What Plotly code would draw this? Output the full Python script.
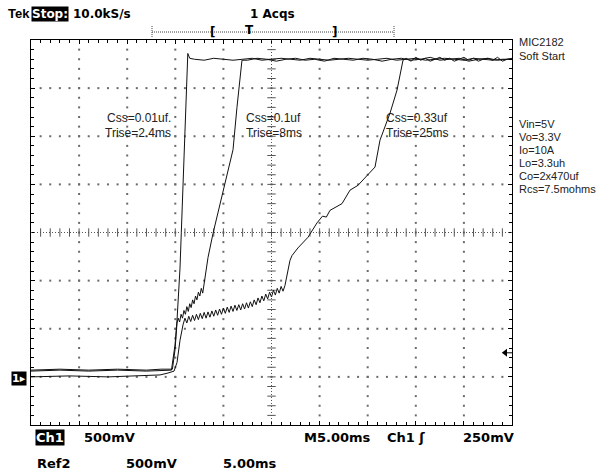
import plotly.graph_objects as go

# ---------------- data (time in ms, voltage in V) ----------------
t_css001 = [0.0, 3.0, 6.0, 9.0, 12.0, 13.5, 14.6, 14.97, 15.18, 15.49, 15.80, 16.11, 16.30, 16.50,
            17, 18, 19, 20, 21, 22, 23, 24, 25, 26, 27, 28, 29, 30, 31, 32, 33, 34, 35, 36,
            37, 38, 39, 40, 41, 42, 43, 44, 45, 46, 47, 48, 49, 50]
v_css001 = [0.06, 0.07, 0.06, 0.07, 0.06, 0.07, 0.07, 0.33, 0.59, 1.13, 1.94, 2.80, 3.36, 3.31,
            3.30, 3.29, 3.31, 3.30, 3.29, 3.30, 3.31, 3.29, 3.30, 3.31,
            3.30, 3.29, 3.31, 3.30, 3.29, 3.30, 3.31, 3.30, 3.29, 3.30,
            3.31, 3.29, 3.30, 3.31, 3.29, 3.30, 3.31, 3.30, 3.29, 3.31,
            3.30, 3.29, 3.30, 3.30]

t_css01 = [0.0, 3.0, 6.0, 9.0, 12.0, 13.5, 14.7, 14.97, 15.18,
           15.3, 15.45, 15.6, 15.75, 15.9, 16.05, 16.2, 16.35, 16.5, 16.65, 16.8, 16.95,
           17.1, 17.25, 17.4, 17.55, 17.7, 17.85,
           18.30, 18.40, 18.92, 19.65, 20.48, 21.00, 21.41, 21.93,
           22.5, 23.5, 24.5, 25.5, 26.5, 27.5, 28.5, 29.5, 30.5, 31.5, 32.5, 33.5, 34.5, 35.5,
           36.5, 37.5, 38.5, 39.5, 40.5, 41.5, 42.5, 43.5, 44.5, 45.5, 46.5, 47.5, 48.5, 49.5, 50.0]
v_css01 = [0.07, 0.08, 0.07, 0.08, 0.07, 0.08, 0.08, 0.28, 0.56,
           0.61, 0.57, 0.65, 0.61, 0.69, 0.65, 0.73, 0.68, 0.76, 0.72, 0.80, 0.76,
           0.84, 0.80, 0.88, 0.84, 0.92, 0.87,
           1.21, 1.24, 1.49, 1.80, 2.12, 2.36, 2.80, 3.29,
           3.29, 3.31, 3.30, 3.28, 3.30, 3.31, 3.29, 3.30, 3.28, 3.31,
           3.30, 3.29, 3.31, 3.30, 3.28, 3.30, 3.31, 3.29, 3.30, 3.32,
           3.29, 3.30, 3.31, 3.28, 3.30, 3.31, 3.29, 3.30, 3.30]

t_css033 = [0.0, 4.0, 8.0, 12.37, 13.41, 14.24, 14.87, 15.18, 15.49, 15.80,
            16.0, 16.2, 16.4, 16.6, 16.8, 17.0, 17.2, 17.4, 17.6, 17.8,
            18.0, 18.2, 18.4, 18.6, 18.8, 19.0, 19.2, 19.4, 19.6, 19.8,
            20.0, 20.2, 20.4, 20.6, 20.8, 21.0, 21.2, 21.4, 21.6, 21.8,
            22.0, 22.2, 22.4, 22.6, 22.8, 23.0, 23.2, 23.4, 23.6, 23.8,
            24.0, 24.2, 24.4, 24.6, 24.8, 25.0, 25.2, 25.4, 25.6, 25.8,
            26.0, 26.2, 26.4,
            26.72, 26.92, 27.13, 27.75, 28.79, 29.73, 30.3, 30.7, 31.08, 32.33, 33.16,
            33.99, 35.76, 36.28, 37.32, 38.05, 38.67,
            39.0, 39.5, 40.0, 40.5, 41.0, 41.5, 42.0, 42.5, 43.0, 43.5, 44.0, 44.5,
            45.0, 45.5, 46.0, 46.5, 47.0, 47.5, 48.0, 48.5, 49.0, 49.5, 50.0]
v_css033 = [0.0, 0.01, 0.0, 0.01, 0.02, 0.04, 0.06, 0.15, 0.38, 0.54,
            0.61, 0.56, 0.63, 0.575, 0.64, 0.585, 0.65, 0.595, 0.66, 0.605,
            0.67, 0.61, 0.675, 0.62, 0.685, 0.63, 0.695, 0.64, 0.705, 0.65,
            0.715, 0.66, 0.725, 0.67, 0.735, 0.68, 0.745, 0.69, 0.75, 0.695,
            0.76, 0.705, 0.77, 0.715, 0.78, 0.73, 0.80, 0.75, 0.82, 0.77,
            0.84, 0.79, 0.86, 0.81, 0.88, 0.83, 0.90, 0.85, 0.92, 0.87,
            0.94, 0.89, 0.95,
            1.11, 1.21, 1.26, 1.34, 1.45, 1.60, 1.67, 1.66, 1.73, 1.80, 1.94,
            1.99, 2.18, 2.46, 2.74, 2.98, 3.29,
            3.31, 3.28, 3.32, 3.29, 3.31, 3.28, 3.30, 3.32, 3.29, 3.31, 3.28, 3.30,
            3.32, 3.29, 3.31, 3.28, 3.30, 3.31, 3.29, 3.32, 3.28, 3.30, 3.31]

labels_css = ["Css=0.01uf.", "Css=0.1uf", "Css=0.33uf"]
labels_trise = ["Trise=2.4ms", "Trise=8ms", "Trise=25ms"]
side_title = ["MIC2182", "Soft Start"]
side_params = ["Vin=5V", "Vo=3.3V", "Io=10A", "Lo=3.3uh", "Co=2x470uf", "Rcs=7.5mohms"]

# ---------------- geometry helpers ----------------
L, T, W, H = 31, 40, 481, 385


def px(x):
    return (x - L) / W


def py(y):
    return (T + H - y) / H


fig = go.Figure()

# graticule dots
gx, gy = [], []
for k in range(1, 10):
    if k == 5:
        continue
    for j in range(1, 40):
        gx.append(k * 5)
        gy.append(round(-0.5 + j * 0.1, 3))
for k in range(1, 8):
    if k == 4:
        continue
    for j in range(1, 50):
        gx.append(j)
        gy.append(-0.5 + k * 0.5)
fig.add_trace(go.Scatter(x=gx, y=gy, mode="markers", hoverinfo="skip",
                         marker=dict(symbol="square", size=2, color="#6a6a6a", line=dict(width=0))))

# centre cross ticks
cy = [round(-0.5 + j * 0.1, 3) for j in range(1, 40)]
fig.add_trace(go.Scatter(x=[25] * len(cy), y=cy, mode="markers", hoverinfo="skip",
                         marker=dict(symbol="line-ew", size=6, line=dict(width=1, color="#555"))))
cx = list(range(1, 50))
fig.add_trace(go.Scatter(x=cx, y=[1.5] * len(cx), mode="markers", hoverinfo="skip",
                         marker=dict(symbol="line-ns", size=6, line=dict(width=1, color="#555"))))

# traces
for t, v in [(t_css001, v_css001), (t_css01, v_css01), (t_css033, v_css033)]:
    fig.add_trace(go.Scatter(x=t, y=v, mode="lines", line=dict(color="#111", width=1),
                             hoverinfo="skip"))

# trigger level marker
fig.add_trace(go.Scatter(x=[49.3, 50], y=[0.25, 0.25], mode="lines", line=dict(color="black", width=1),
                         hoverinfo="skip", cliponaxis=False))
fig.add_trace(go.Scatter(x=[49.3], y=[0.25], mode="markers", hoverinfo="skip", cliponaxis=False,
                         marker=dict(symbol="triangle-left", size=7, color="black")))

shapes = [
    dict(type="line", xref="x", yref="y", x0=25, x1=25, y0=-0.5, y1=3.5,
         line=dict(color="#555", width=1, dash="1px,2px")),
    dict(type="line", xref="x", yref="y", x0=0, x1=50, y0=1.5, y1=1.5,
         line=dict(color="#555", width=1, dash="1px,2px")),
    # record bar at top
    dict(type="line", xref="paper", yref="paper", x0=px(152), x1=px(394), y0=py(32), y1=py(32),
         line=dict(color="#444", width=1, dash="1px,1px")),
    dict(type="line", xref="paper", yref="paper", x0=px(152), x1=px(152), y0=py(26), y1=py(38),
         line=dict(color="#444", width=1, dash="1px,1px")),
    dict(type="line", xref="paper", yref="paper", x0=px(394), x1=px(394), y0=py(26), y1=py(38),
         line=dict(color="#444", width=1, dash="1px,1px")),
]

TEK = "DejaVu Sans"
ARI = "Liberation Sans"
anns = []


def ann(text, x, y, size=12, family=ARI, color="black", xanchor="left", bg=None, bold=False):
    if bold:
        text = "<b>" + text + "</b>"
    d = dict(text=text, x=px(x), y=py(y), xref="paper", yref="paper", showarrow=False,
             xanchor=xanchor, yanchor="middle", font=dict(size=size, family=family, color=color))
    if bg:
        d.update(bgcolor=bg, borderpad=0)
    anns.append(d)


# top status line
ann("Tek", 6, 14, 13, ARI, bold=True)
ann("Stop:", 31, 14, 12, TEK, color="white", bg="black", bold=True)
ann("10.0kS/s", 71, 14, 12, TEK, bold=True)
ann("1 Acqs", 248, 14, 12, TEK, bold=True)
ann("[", 212, 32, 12, TEK, xanchor="center", bold=True)
ann("T", 249, 30, 12, TEK, xanchor="center", bold=True)
ann("]", 334, 32, 12, TEK, xanchor="center", bold=True)

# right side notes
for i, s in enumerate(side_title):
    ann(s, 517, 42 + 14 * i, 11, ARI, color="#222")
for i, s in enumerate(side_params):
    ann(s, 517, 124 + 13 * i, 11, ARI, color="#222")

# in-plot labels
ann(labels_css[0], 173, 118, 12, ARI, color="#222", xanchor="right")
ann(labels_trise[0], 173, 133, 12, ARI, color="#222", xanchor="right")
ann(labels_css[1], 244, 118, 12, ARI, color="#222")
ann(labels_trise[1], 244, 133, 12, ARI, color="#222")
ann(labels_css[2], 384, 118, 12, ARI, color="#222")
ann(labels_trise[2], 384, 133, 12, ARI, color="#222")

# bottom readouts
ann("Ch1", 35, 437, 13, TEK, color="white", bg="black", bold=True)
ann("500mV", 82, 437, 13, TEK, bold=True)
ann("M5.00ms", 302, 437, 13, TEK, bold=True)
ann("Ch1 \u0283", 385, 437, 13, TEK, bold=True)
ann("250mV", 461, 437, 13, TEK, bold=True)
ann("Ref2", 35, 464, 13, TEK, bold=True)
ann("500mV", 124, 464, 13, TEK, bold=True)
ann("5.00ms", 221, 464, 13, TEK, bold=True)

# ground marker
ann("1\u25b8", 11, 378, 11, TEK, color="white", bg="black", bold=True)

axis_common = dict(showgrid=False, zeroline=False, showline=True, linecolor="black", linewidth=1,
                   mirror="ticks", ticks="inside", ticklen=4, tickcolor="black", tickwidth=1,
                   showticklabels=False, fixedrange=True)

fig.update_layout(
    width=616, height=474,
    margin=dict(l=L, r=616 - L - W, t=T, b=474 - T - H, pad=0),
    paper_bgcolor="white", plot_bgcolor="white",
    showlegend=False,
    xaxis=dict(range=[0, 50], dtick=5, tick0=0,
               minor=dict(ticks="inside", ticklen=3, dtick=1, tickcolor="black"), **axis_common),
    yaxis=dict(range=[-0.5, 3.5], dtick=0.5, tick0=0,
               minor=dict(ticks="inside", ticklen=3, dtick=0.1, tickcolor="black"), **axis_common),
    shapes=shapes,
    annotations=anns,
)

fig.write_html("out.html",
               config={"displayModeBar": False, "staticPlot": True},
               post_script="document.body.style.margin='0px';document.body.style.padding='0px';"
                           "document.body.style.overflow='hidden';")
